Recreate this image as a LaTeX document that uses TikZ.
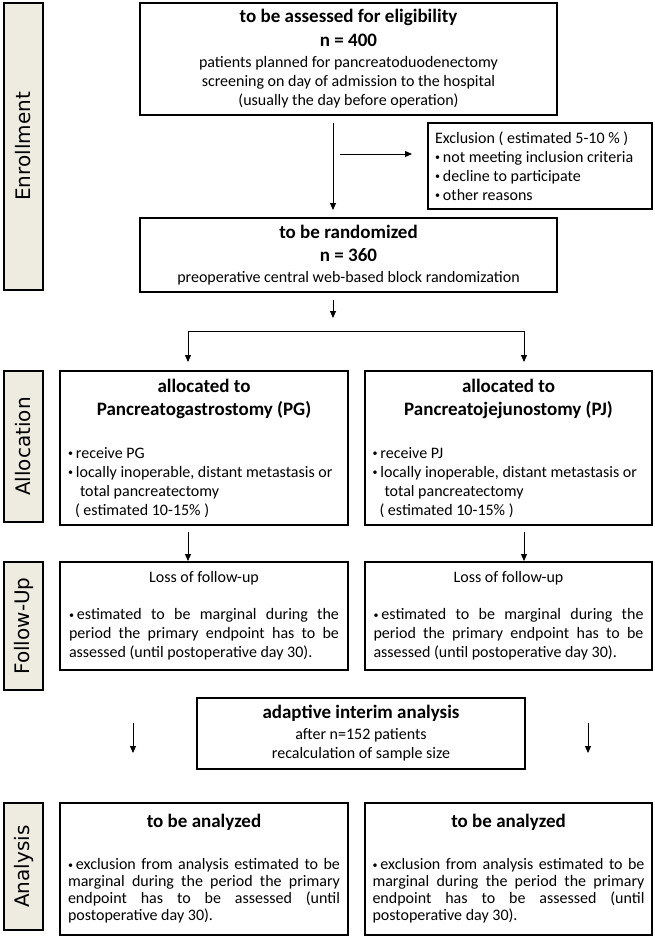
\documentclass[tikz,border=0pt]{standalone}
\usepackage{fontspec}
\setmainfont{Carlito}
\newfontfamily\phasefont{DejaVu Sans}
\usetikzlibrary{arrows.meta}
\definecolor{phasebg}{HTML}{EEECE1}
\newcommand\mybul{\raisebox{1.5pt}{\fontsize{10}{10}\selectfont •}\hspace{3pt}}
\newcommand\jline[1]{\makebox[\linewidth][s]{#1}\par}
\begin{document}
\begin{tikzpicture}[x=1pt,y=-1pt,
  box/.style={draw=black, line width=1.1pt, rectangle, inner sep=0pt,
    font=\fontsize{16}{19}\selectfont},
  phase/.style={draw=black, line width=1.1pt, fill=phasebg, rectangle, inner sep=0pt,
    minimum width=39pt, font=\phasefont\fontsize{20}{24}\selectfont},
  arr/.style={-{Triangle[length=7pt,width=6pt]}, line width=0.9pt},
  ttl/.style={}]
\useasboundingbox (0,0) rectangle (654,937);
\fill[white] (0,0) rectangle (654,937);

% phase labels
\node[phase, minimum height=287pt] (ph1) at (23.5,146.5) {\rotatebox{90}{Enrollment}};
\node[phase, minimum height=151pt] (ph2) at (23.5,446.5) {\rotatebox{90}{Allocation}};
\node[phase, minimum height=128pt] (ph3) at (23.5,626) {\rotatebox{90}{Follow-Up}};
\node[phase, minimum height=127pt] (ph4) at (23.5,866.5) {\rotatebox{90}{Analysis}};

% enrollment
\node[box, minimum width=417pt, minimum height=112pt] (elig) at (348.5,59) {%
\begin{minipage}{400pt}\centering
{\fontsize{19}{24}\selectfont\bfseries to be assessed for eligibility\par n = 400\par}
\vspace{2pt}
patients planned for pancreatoduodenectomy\par
screening on day of admission to the hospital\par
(usually the day before operation)
\end{minipage}};

\node[box, minimum width=224pt, minimum height=86pt] (excl) at (540,166) {%
\begin{minipage}{210pt}
Exclusion ( estimated 5-10 \% )\par
\mybul not meeting inclusion criteria\par
\mybul decline to participate\par
\mybul other reasons
\end{minipage}};

\node[box, minimum width=417pt, minimum height=74pt] (rand) at (348.5,255) {%
\begin{minipage}{400pt}\centering
{\fontsize{19}{23}\selectfont\bfseries to be randomized\par n = 360\par}
\vspace{2pt}
preoperative central web-based block randomization
\end{minipage}};

% allocation
\node[box, minimum width=288pt, minimum height=154pt] (allL) at (204,448) {%
\begin{minipage}{272pt}
{\centering\fontsize{19}{23}\selectfont\bfseries allocated to\par Pancreatogastrostomy (PG)\par}
\vspace{24pt}
\mybul receive PG\par
\mybul locally inoperable, distant metastasis or\par
\hspace*{12pt}total pancreatectomy\par
\hspace*{7pt}( estimated 10-15\% )
\end{minipage}};

\node[box, minimum width=287pt, minimum height=154pt] (allR) at (508.5,448) {%
\begin{minipage}{272pt}
{\centering\fontsize{19}{23}\selectfont\bfseries allocated to\par Pancreatojejunostomy (PJ)\par}
\vspace{24pt}
\mybul receive PJ\par
\mybul locally inoperable, distant metastasis or\par
\hspace*{12pt}total pancreatectomy\par
\hspace*{7pt}( estimated 10-15\% )
\end{minipage}};

% follow-up
\node[box, minimum width=288pt, minimum height=108pt] (folL) at (204,616) {%
\begin{minipage}{270pt}
{\centering Loss of follow-up\par}
\vspace{18pt}
\jline{\mybul estimated to be marginal during the}
\jline{period the primary endpoint has to be}
assessed (until postoperative day 30).
\end{minipage}};

\node[box, minimum width=287pt, minimum height=108pt] (folR) at (508.5,616) {%
\begin{minipage}{270pt}
{\centering Loss of follow-up\par}
\vspace{18pt}
\jline{\mybul estimated to be marginal during the}
\jline{period the primary endpoint has to be}
assessed (until postoperative day 30).
\end{minipage}};

% interim
\node[box, minimum width=328pt, minimum height=71pt] (inter) at (361,733.5) {%
\begin{minipage}{310pt}\centering
{\fontsize{19}{21}\selectfont\bfseries adaptive interim analysis\par}
\vspace{2pt}
after n=152 patients\par
recalculation of sample size
\end{minipage}};

% analysis
\node[box, minimum width=288pt, minimum height=132pt] (anaL) at (204,869) {%
\begin{minipage}{272pt}\fontsize{16}{17}\selectfont
{\centering\fontsize{19}{21}\selectfont\bfseries to be analyzed\par}
\vspace{25pt}
\jline{\mybul exclusion from analysis estimated to be}
\jline{marginal during the period the primary}
\jline{endpoint has to be assessed (until}
postoperative day 30).
\end{minipage}};

\node[box, minimum width=287pt, minimum height=132pt] (anaR) at (508.5,869) {%
\begin{minipage}{272pt}\fontsize{16}{17}\selectfont
{\centering\fontsize{19}{21}\selectfont\bfseries to be analyzed\par}
\vspace{25pt}
\jline{\mybul exclusion from analysis estimated to be}
\jline{marginal during the period the primary}
\jline{endpoint has to be assessed (until}
postoperative day 30).
\end{minipage}};

% connectors
\coordinate (a1s) at (333,123);
\coordinate (a1e) at (333,210);
\coordinate (a2s) at (340,154);
\coordinate (a2e) at (412,154);
\coordinate (a3s) at (333,300);
\coordinate (a3e) at (333,318);
\coordinate (bL) at (188,331);
\coordinate (bR) at (524,331);
\coordinate (tL) at (188,362);
\coordinate (tR) at (524,362);
\coordinate (f1s) at (188,532);
\coordinate (f1e) at (188,561);
\coordinate (f2s) at (524,532);
\coordinate (f2e) at (524,561);
\coordinate (i1s) at (133,723);
\coordinate (i1e) at (133,753);
\coordinate (i2s) at (588,723);
\coordinate (i2e) at (588,753);

\draw[arr] (a1s) -- (a1e);
\draw[arr] (a2s) -- (a2e);
\draw[arr] (a3s) -- (a3e);
\draw[{Triangle[length=7pt,width=6pt]}-{Triangle[length=7pt,width=6pt]}, line width=0.9pt]
  (tL) -- (bL) -- (bR) -- (tR);
\draw[arr] (f1s) -- (f1e);
\draw[arr] (f2s) -- (f2e);
\draw[arr] (i1s) -- (i1e);
\draw[arr] (i2s) -- (i2e);
\end{tikzpicture}
\end{document}
